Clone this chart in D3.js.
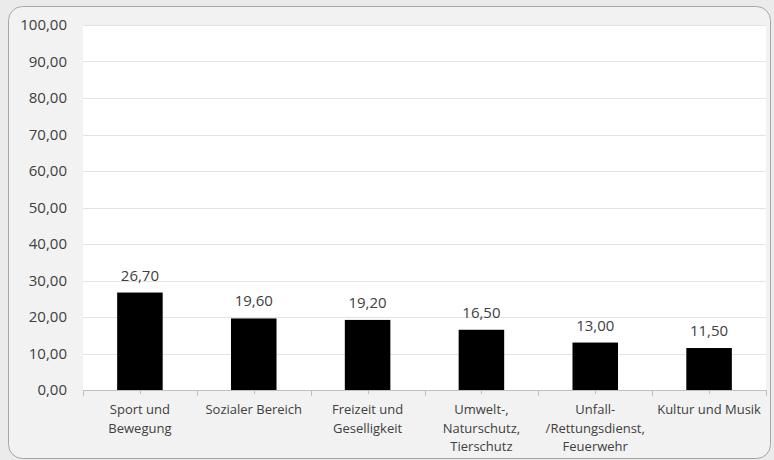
<!DOCTYPE html>
<html><head><meta charset="utf-8">
<script src="https://cdn.jsdelivr.net/npm/d3@7"></script>
<style>body{margin:0;background:#ebebeb;}svg{display:block;}</style>
</head><body>
<svg id="chart" width="774" height="460"></svg>
<script>
const categories = [["Sport und","Bewegung"],["Sozialer Bereich"],["Freizeit und","Geselligkeit"],["Umwelt-,","Naturschutz,","Tierschutz"],["Unfall-","/Rettungsdienst,","Feuerwehr"],["Kultur und Musik"]];
const values = [26.7, 19.6, 19.2, 16.5, 13.0, 11.5];
const yTicks = [0,10,20,30,40,50,60,70,80,90,100];

const svg = d3.select("#chart");
const font = "'Open Sans', 'Noto Sans', sans-serif";
const fmt = v => d3.format(".2f")(v).replace(".", ",");

svg.append("rect").attr("x",8.5).attr("y",6.5).attr("width",762).attr("height",452).attr("rx",14)
  .attr("fill","#f2f2f2").attr("stroke","#a6a6a6").attr("stroke-width",1);

const m = {left:83, right:766, top:25, bottom:390};
const x = d3.scaleBand().domain(d3.range(categories.length)).range([m.left, m.right]).padding(0);
const y = d3.scaleLinear().domain([0,100]).range([m.bottom, m.top]);

svg.append("rect").attr("x",m.left).attr("y",m.top).attr("width",m.right-m.left).attr("height",m.bottom-m.top).attr("fill","#ffffff");

svg.append("g").selectAll("line").data(yTicks.filter(d=>d>0)).join("line")
  .attr("x1",m.left).attr("x2",m.right).attr("y1",d=>Math.round(y(d))+0.5).attr("y2",d=>Math.round(y(d))+0.5)
  .attr("stroke","#e3e3e3").attr("stroke-width",1);

svg.append("g").selectAll("text").data(yTicks).join("text")
  .attr("x",67).attr("y",d=>y(d)).attr("dy","0.36em").attr("text-anchor","end")
  .attr("font-family",font).attr("font-size",15).attr("fill","#404040").text(fmt);

const bw = x.bandwidth()*0.4;
svg.append("g").selectAll("rect").data(values).join("rect")
  .attr("x",(d,i)=>x(i)+x.bandwidth()/2-bw/2).attr("width",bw)
  .attr("y",d=>y(d)).attr("height",d=>y(0)-y(d)).attr("fill","#000000");

svg.append("g").selectAll("text").data(values).join("text")
  .attr("x",(d,i)=>x(i)+x.bandwidth()/2).attr("y",d=>y(d)-12).attr("text-anchor","middle")
  .attr("font-family",font).attr("font-size",15).attr("fill","#404040").text(fmt);

// x axis
const ax = svg.append("g");
ax.append("line").attr("x1",m.left).attr("x2",m.right).attr("y1",m.bottom+0.5).attr("y2",m.bottom+0.5).attr("stroke","#bfbfbf");
const tickX = d3.range(categories.length+1).map(i => i<categories.length ? x(i) : m.right);
ax.selectAll("line.t").data(tickX).join("line").attr("class","t")
  .attr("x1",d=>Math.round(d)+0.5).attr("x2",d=>Math.round(d)+0.5).attr("y1",m.bottom).attr("y2",m.bottom+6).attr("stroke","#bfbfbf");
ax.selectAll("line.c").data(categories).join("line").attr("class","c")
  .attr("x1",(d,i)=>Math.round(x(i)+x.bandwidth()/2)+0.5).attr("x2",(d,i)=>Math.round(x(i)+x.bandwidth()/2)+0.5)
  .attr("y1",m.bottom).attr("y2",m.bottom+4).attr("stroke","#bfbfbf");

const lbl = ax.selectAll("text").data(categories).join("text")
  .attr("text-anchor","middle").attr("font-family",font).attr("font-size",13).attr("fill","#404040");
lbl.each(function(lines,i){
  d3.select(this).selectAll("tspan").data(lines).join("tspan")
    .attr("x", x(i)+x.bandwidth()/2).attr("y",(d,j)=>414+j*18.5).text(d=>d);
});
</script>
</body></html>
